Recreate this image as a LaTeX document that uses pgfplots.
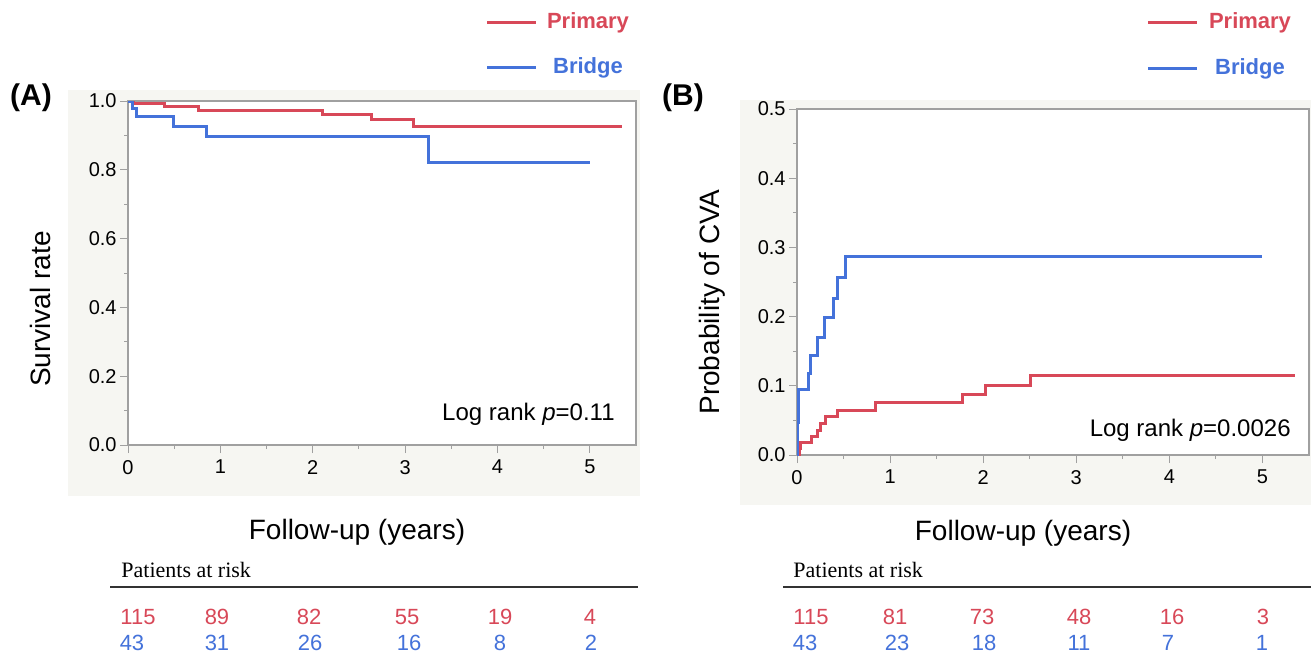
\documentclass[border=0pt]{standalone}
\usepackage{fontspec}
\setmainfont{Liberation Sans}
\newfontfamily\timesfont{Liberation Serif}
\usepackage{pgfplots}
\pgfplotsset{compat=1.18}

\definecolor{kmred}{RGB}{216,72,88}
\definecolor{kmblue}{RGB}{68,114,218}
\definecolor{panelbg}{RGB}{246,246,242}
\definecolor{axgray}{RGB}{160,160,160}

\newcommand{\fs}[1]{\fontsize{#1}{#1}\selectfont}

\pgfplotsset{
  km/.style={
    scale only axis,
    axis background/.style={fill=white},
    axis line style={axgray, line width=0.75pt},
    tick style={axgray, line width=0.5pt},
    major tick length=4pt, minor tick length=2pt,
    tick align=outside, xtick pos=bottom, ytick pos=left,
    xmin=0, xmax=5.5, xtick={0,1,2,3,4,5}, minor x tick num=1,
    minor y tick num=1,
    tick label style={font=\fs{10}},
    /pgf/number format/assume math mode=true,
    yticklabel style={inner xsep=1.5pt, /pgf/number format/fixed,
      /pgf/number format/fixed zerofill, /pgf/number format/precision=1},
    every axis plot/.append style={line width=1.5pt, const plot},
  }
}

\begin{document}
\begin{tikzpicture}
\path[use as bounding box] (0,0) rectangle (655.5pt,327.5pt);

% grey panels behind the plots
\begin{scope}[x=0.5pt,y=-0.5pt,shift={(0pt,327.5pt)}]
  \fill[panelbg] (68,90) rectangle (640,496);
  \fill[panelbg] (740,100) rectangle (1311,505);
\end{scope}

% (A) survival
\begin{axis}[km, at={(64pt,105pt)}, anchor=south west,
    width=254pt, height=172pt,
    ymin=0, ymax=1, ytick={0,0.2,0.4,0.6,0.8,1}]
\addplot[kmred] coordinates {
  (0,1) (0.06,0.992) (0.39,0.983) (0.76,0.972) (2.11,0.960)
  (2.64,0.946) (3.09,0.927) (5.35,0.927)};
\addplot[kmblue] coordinates {
  (0,1) (0.054,0.978) (0.09,0.955) (0.49,0.927) (0.85,0.898)
  (3.25,0.822) (5.0,0.822)};
\end{axis}

% (B) CVA
\begin{axis}[km, at={(398.5pt,100pt)}, anchor=south west,
    width=256pt, height=173pt,
    ymin=0, ymax=0.5, ytick={0,0.1,0.2,0.3,0.4,0.5}]
\addplot[kmred] coordinates {
  (0,0) (0.03,0.009) (0.04,0.018) (0.16,0.027) (0.22,0.036)
  (0.25,0.046) (0.31,0.055) (0.44,0.065) (0.84,0.076)
  (1.78,0.088) (2.03,0.101) (2.51,0.115) (5.35,0.115)};
\addplot[kmblue] coordinates {
  (0,0) (0.003,0.023) (0.01,0.047) (0.02,0.094) (0.125,0.118)
  (0.14,0.144) (0.22,0.170) (0.30,0.198) (0.39,0.226)
  (0.44,0.256) (0.52,0.287) (5.0,0.287)};
\end{axis}

\begin{scope}[x=0.5pt,y=-0.5pt,shift={(0pt,327.5pt)}]
  % legends
  \draw[kmred, line width=1.5pt] (487,23) -- (536,23);
  \node[kmred, font=\fs{11}\bfseries] at (588,23) {Primary};
  \draw[kmblue, line width=1.5pt] (487,68) -- (536,68);
  \node[kmblue, font=\fs{11}\bfseries] at (588,68) {Bridge};
  \draw[kmred, line width=1.5pt] (1148,23) -- (1197,23);
  \node[kmred, font=\fs{11}\bfseries] at (1250,23) {Primary};
  \draw[kmblue, line width=1.5pt] (1148,69) -- (1197,69);
  \node[kmblue, font=\fs{11}\bfseries] at (1250,69) {Bridge};

  % panel letters
  \node[font=\fs{15}\bfseries] at (31,98) {(A)};
  \node[font=\fs{15}\bfseries] at (683,98) {(B)};

  % axis titles
  \node[rotate=90, font=\fs{14}] at (40,309) {Survival rate};
  \node[rotate=90, font=\fs{14}] at (712,302) {Probability of CVA};
  \node[font=\fs{14}] at (357,532) {Follow-up (years)};
  \node[font=\fs{14}] at (1023,533) {Follow-up (years)};

  % log rank
  \node[anchor=east, inner sep=0pt, font=\fs{12}] at (615,414) {Log rank \textit{p}=0.11};
  \node[anchor=east, inner sep=0pt, font=\fs{12}] at (1291,430) {Log rank \textit{p}=0.0026};

  % patients at risk
  \node[anchor=west, inner sep=0pt, font=\timesfont\fs{11}] at (121,570) {Patients at risk};
  \draw[black!80, line width=1pt] (110,587) -- (638,587);
  \node[anchor=west, inner sep=0pt, font=\timesfont\fs{11}] at (793,570) {Patients at risk};
  \draw[black!80, line width=1pt] (783,587) -- (1311,587);

  \begin{scope}[font=\fs{11}]
    \foreach \x/\n in {138/115, 217/89, 309/82, 407/55, 500/19, 590/4}
      \node[kmred] at (\x,617) {\n};
    \foreach \x/\n in {132/43, 217/31, 310/26, 409/16, 500/8, 591/2}
      \node[kmblue] at (\x,643) {\n};
    \foreach \x/\n in {811/115, 895/81, 982/73, 1079/48, 1172/16, 1263/3}
      \node[kmred] at (\x,617) {\n};
    \foreach \x/\n in {805/43, 897/23, 984/18, 1079/11, 1168/7, 1262/1}
      \node[kmblue] at (\x,643) {\n};
  \end{scope}
\end{scope}
\end{tikzpicture}
\end{document}
